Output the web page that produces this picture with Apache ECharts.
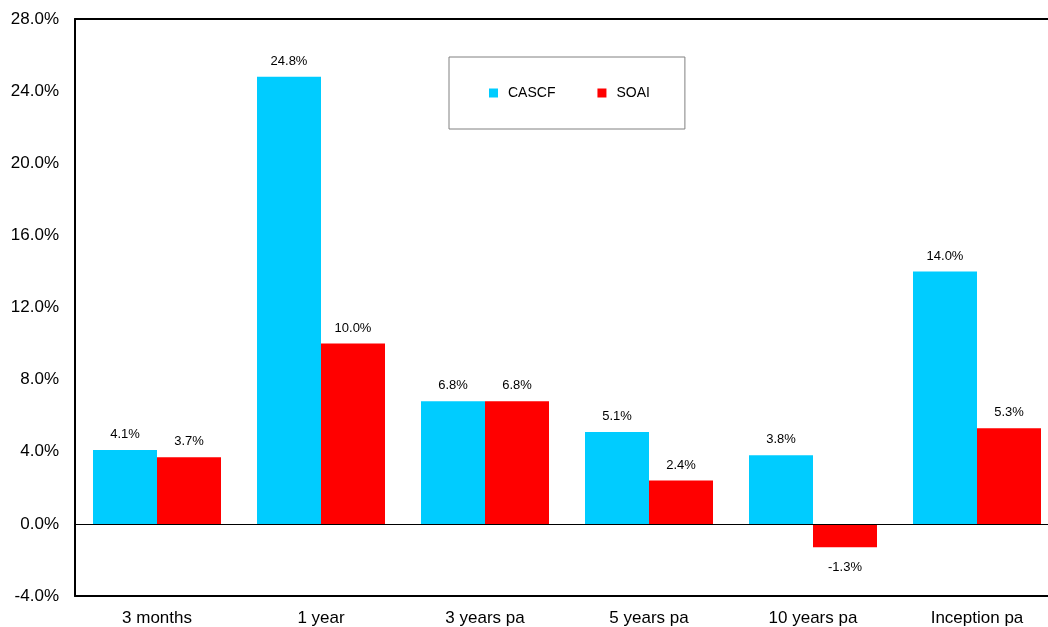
<!DOCTYPE html>
<html>
<head>
<meta charset="utf-8">
<script src="https://cdn.jsdelivr.net/npm/echarts@6/dist/echarts.min.js"></script>
<style>html,body{margin:0;padding:0;background:#fff;overflow:hidden;width:1048px;height:627px;}#c{width:1070px;height:627px;}</style>
</head>
<body>
<div id="c"></div>
<script>
var categories = ['3 months', '1 year', '3 years pa', '5 years pa', '10 years pa', 'Inception pa'];
var cascf = [4.1, 24.8, 6.8, 5.1, 3.8, 14.0];
var soai = [3.7, 10.0, 6.8, 2.4, -1.3, 5.3];
var yTicks = { min: -4, max: 28, interval: 4 };

var FONT = '"Liberation Sans", Arial, Helvetica, sans-serif';

function toData(arr) {
  return arr.map(function (v) {
    return {
      value: v,
      label: v < 0 ? { position: 'bottom', distance: 14 } : { position: 'top', distance: 9 }
    };
  });
}

var labelCfg = {
  show: true,
  color: '#000',
  fontFamily: FONT,
  fontSize: 13,
  formatter: function (p) { return p.value.toFixed(1) + '%'; }
};

var chart = echarts.init(document.getElementById('c'), null, { renderer: 'canvas' });
chart.setOption({
  animation: false,
  backgroundColor: '#fff',
  textStyle: { fontFamily: FONT },
  grid: { left: 75, top: 19, width: 984, height: 578, containLabel: false },
  legend: {
    data: ['CASCF', 'SOAI'],
    left: 449,
    top: 57,
    orient: 'horizontal',
    itemWidth: 9,
    itemHeight: 9,
    itemGap: 42,
    icon: 'rect',
    padding: [29, 35, 29, 40],
    borderColor: '#808080',
    borderWidth: 1,
    backgroundColor: '#fff',
    textStyle: { fontFamily: FONT, fontSize: 14, color: '#000', padding: [0, 0, 0, 5] }
  },
  xAxis: [
    {
      type: 'category',
      data: categories,
      position: 'bottom',
      axisLine: { show: true, onZero: false, lineStyle: { color: '#000', width: 2 } },
      axisTick: { show: false },
      axisLabel: { color: '#000', fontFamily: FONT, fontSize: 17, margin: 14 },
      splitLine: { show: false }
    },
    {
      type: 'category',
      data: categories,
      position: 'top',
      axisLine: { show: true, onZero: false, lineStyle: { color: '#000', width: 2 } },
      axisTick: { show: false },
      axisLabel: { show: false },
      splitLine: { show: false }
    }
  ],
  yAxis: {
    type: 'value',
    min: yTicks.min,
    max: yTicks.max,
    interval: yTicks.interval,
    axisLine: { show: true, onZero: false, lineStyle: { color: '#000', width: 2 } },
    axisTick: { show: false },
    splitLine: { show: false },
    axisLabel: {
      color: '#000',
      fontFamily: FONT,
      fontSize: 17,
      margin: 16,
      formatter: function (v) { return v.toFixed(1) + '%'; }
    }
  },
  series: [
    {
      name: 'CASCF',
      type: 'bar',
      data: toData(cascf),
      barWidth: 64,
      barGap: '0%',
      itemStyle: { color: '#00CCFF' },
      label: labelCfg,
      markLine: {
        silent: true,
        symbol: ['none', 'none'],
        label: { show: false },
        lineStyle: { color: '#000', width: 1, type: 'solid' },
        data: [{ yAxis: 0 }],
        z: 10
      }
    },
    {
      name: 'SOAI',
      type: 'bar',
      data: toData(soai),
      barWidth: 64,
      barGap: '0%',
      itemStyle: { color: '#FF0000' },
      label: labelCfg
    }
  ]
});
</script>
</body>
</html>
